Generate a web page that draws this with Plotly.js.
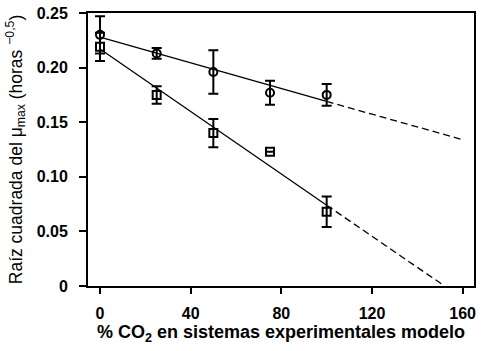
<!DOCTYPE html>
<html><head><meta charset="utf-8">
<script src="https://cdn.plot.ly/plotly-3.0.1.min.js"></script>
<style>html,body{margin:0;padding:0;background:#fff}#plot{width:491px;height:351px}</style>
</head><body><div id="plot"></div>
<script>
// Circles series
const circX = [0, 25, 50, 75, 100];
const circY = [0.230, 0.213, 0.196, 0.177, 0.175];
const circErr = [0.017, 0.005, 0.020, 0.011, 0.010];
// Squares series
const sqX = [0, 25, 50, 75, 100];
const sqY = [0.219, 0.175, 0.140, 0.123, 0.068];
const sqErr = [0.013, 0.008, 0.013, 0, 0.014];
// Regression lines (solid within data, dashed extrapolation)
const circFitSolidX = [0, 100];
const circFitSolidY = [0.228, 0.169];
const circFitDashX = [100, 160];
const circFitDashY = [0.169, 0.134];
const sqFitSolidX = [0, 100];
const sqFitSolidY = [0.217, 0.074];
const sqFitDashX = [100, 152];
const sqFitDashY = [0.074, 0.0];
const xTicks = [0, 40, 80, 120, 160];
const yTicks = [0, 0.05, 0.10, 0.15, 0.20, 0.25];
const yTickText = ['0', '0.05', '0.10', '0.15', '0.20', '0.25'];

const FONT = 'Liberation Sans, Arial, sans-serif';
const lineStyle = {color: '#000', width: 1.3};
const traces = [
  {x: circFitSolidX, y: circFitSolidY, mode: 'lines', line: lineStyle, hoverinfo: 'skip'},
  {x: circFitDashX, y: circFitDashY, mode: 'lines', line: Object.assign({dash: '7px,4px'}, lineStyle), hoverinfo: 'skip'},
  {x: sqFitSolidX, y: sqFitSolidY, mode: 'lines', line: lineStyle, hoverinfo: 'skip'},
  {x: sqFitDashX, y: sqFitDashY, mode: 'lines', line: Object.assign({dash: '7px,4px'}, lineStyle), hoverinfo: 'skip'},
  {x: circX, y: circY, mode: 'markers',
   marker: {symbol: 'circle-open', size: 8, color: '#000', line: {width: 2, color: '#000'}},
   error_y: {type: 'data', array: circErr, visible: true, color: '#000', thickness: 2, width: 5}},
  {x: sqX, y: sqY, mode: 'markers',
   marker: {symbol: 'square-open', size: 8, color: '#000', line: {width: 2, color: '#000'}},
   error_y: {type: 'data', array: sqErr, visible: true, color: '#000', thickness: 2, width: 5}}
];

const layout = {
  width: 491, height: 351,
  margin: {l: 88, r: 17, t: 13, b: 65},
  paper_bgcolor: '#fff', plot_bgcolor: '#fff',
  showlegend: false,
  font: {family: FONT, color: '#000'},
  xaxis: {
    range: [-5.3, 165], tickvals: xTicks, ticktext: xTicks.map(String),
    ticks: 'outside', ticklen: 6, tickwidth: 2, tickcolor: '#000',
    showline: true, linewidth: 2, linecolor: '#000', mirror: true,
    showgrid: false, zeroline: false, ticklabelstandoff: 6,
    tickfont: {size: 16, family: FONT, weight: 'bold'},
    title: {text: '<b>% CO<sub>2</sub> en sistemas experimentales modelo</b>',
            font: {size: 18, family: FONT}, standoff: 0}
  },
  yaxis: {
    range: [0, 0.25], tickvals: yTicks, ticktext: yTickText,
    ticks: 'outside', ticklen: 7, tickwidth: 2, tickcolor: '#000',
    showline: true, linewidth: 2, linecolor: '#000', mirror: true,
    showgrid: false, zeroline: false, ticklabelstandoff: 8,
    tickfont: {size: 16, family: FONT, weight: 'bold'},
    title: {text: 'Raíz cuadrada del μ<sub>max</sub> (horas <sup>−0,5</sup>)',
            font: {size: 17.5, family: FONT}, standoff: 10}
  }
};
Plotly.newPlot('plot', traces, layout, {displayModeBar: false, staticPlot: true});
</script></body></html>
